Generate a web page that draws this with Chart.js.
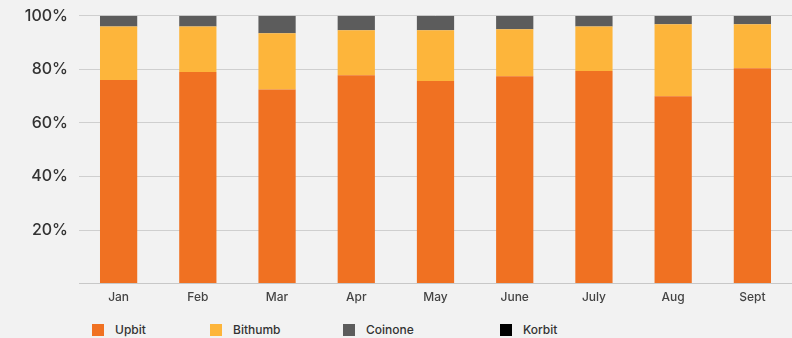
<!DOCTYPE html>
<html>
<head>
<meta charset="utf-8">
<script src="https://cdn.jsdelivr.net/npm/chart.js@4/dist/chart.umd.min.js"></script>
<style>
  body { margin: 0; background: #f2f2f2; }
  #wrap { position: relative; width: 792px; height: 338px; }
  #chart-box { width: 792px; height: 314px; }
  #legend { position: absolute; left: 92px; top: 322px; display: flex; font-family: Inter, "Noto Sans", sans-serif; font-size: 12px; font-weight: 500; color: #333; }
  #legend .item { display: flex; align-items: center; }
  #legend .item:nth-child(1) { width: 118px; }
  #legend .item:nth-child(2) { width: 133px; }
  #legend .item:nth-child(3) { width: 157px; }
  #legend .box { width: 12px; height: 12px; margin-right: 11px; }
</style>
</head>
<body>
<div id="wrap">
  <div id="chart-box"><canvas id="bar-chart"></canvas></div>
  <div id="legend"></div>
</div>
<script>
const months = ["Jan", "Feb", "Mar", "Apr", "May", "June", "July", "Aug", "Sept"];
// market share in %
const upbit   = [76, 79, 72.5, 77.8, 75.7, 77.4, 79.4, 70, 80.4];
const bithumb = [20, 17, 21, 16.8, 18.9, 17.6, 16.6, 26.8, 16.4];
const coinone = [4, 4, 6.5, 5.4, 5.4, 5, 4, 3.2, 3.2];
const korbit  = [0, 0, 0, 0, 0, 0, 0, 0, 0];
const yTicks = [0, 20, 40, 60, 80, 100];

const series = [
  { label: "Upbit", data: upbit, backgroundColor: "#f07122" },
  { label: "Bithumb", data: bithumb, backgroundColor: "#fdb53b" },
  { label: "Coinone", data: coinone, backgroundColor: "#5c5c5c" },
  { label: "Korbit", data: korbit, backgroundColor: "#000000" }
];

const chart = new Chart(document.getElementById("bar-chart"), {
  type: 'bar',
  data: {
    labels: months,
    datasets: series.map(s => ({
      label: s.label,
      data: s.data,
      backgroundColor: s.backgroundColor,
      barPercentage: 0.47,
      categoryPercentage: 1.0
    }))
  },
  options: {
    responsive: true,
    maintainAspectRatio: false,
    animation: false,
    layout: { padding: { top: 0, right: 0, bottom: 2, left: 0 } },
    plugins: {
      legend: { display: false },
      tooltip: { enabled: false }
    },
    scales: {
      x: {
        stacked: true,
        grid: { display: false, drawTicks: false },
        border: { display: true, color: "#c8c8c8" },
        ticks: {
          color: "#444",
          padding: 7,
          font: { family: "Inter, 'Noto Sans', sans-serif", size: 12, weight: 500 }
        }
      },
      y: {
        stacked: true,
        min: 0,
        max: 100,
        afterFit: (scale) => { scale.width = 79; },
        afterBuildTicks: (scale) => { scale.ticks = yTicks.map(v => ({ value: v })); },
        grid: { color: "#cfcfcf", drawTicks: false },
        border: { display: false },
        ticks: {
          color: "#333",
          padding: 11,
          font: { family: "Inter, 'Noto Sans', sans-serif", size: 16, weight: 500, lineHeight: 0.6 },
          callback: (v) => v === 0 ? "" : v + "%"
        }
      }
    }
  }
});

const legend = document.getElementById("legend");
chart.data.datasets.forEach(ds => {
  const item = document.createElement("span");
  item.className = "item";
  item.innerHTML = '<span class="box" style="background:' + ds.backgroundColor + '"></span>' + ds.label;
  legend.appendChild(item);
});
</script>
</body>
</html>
